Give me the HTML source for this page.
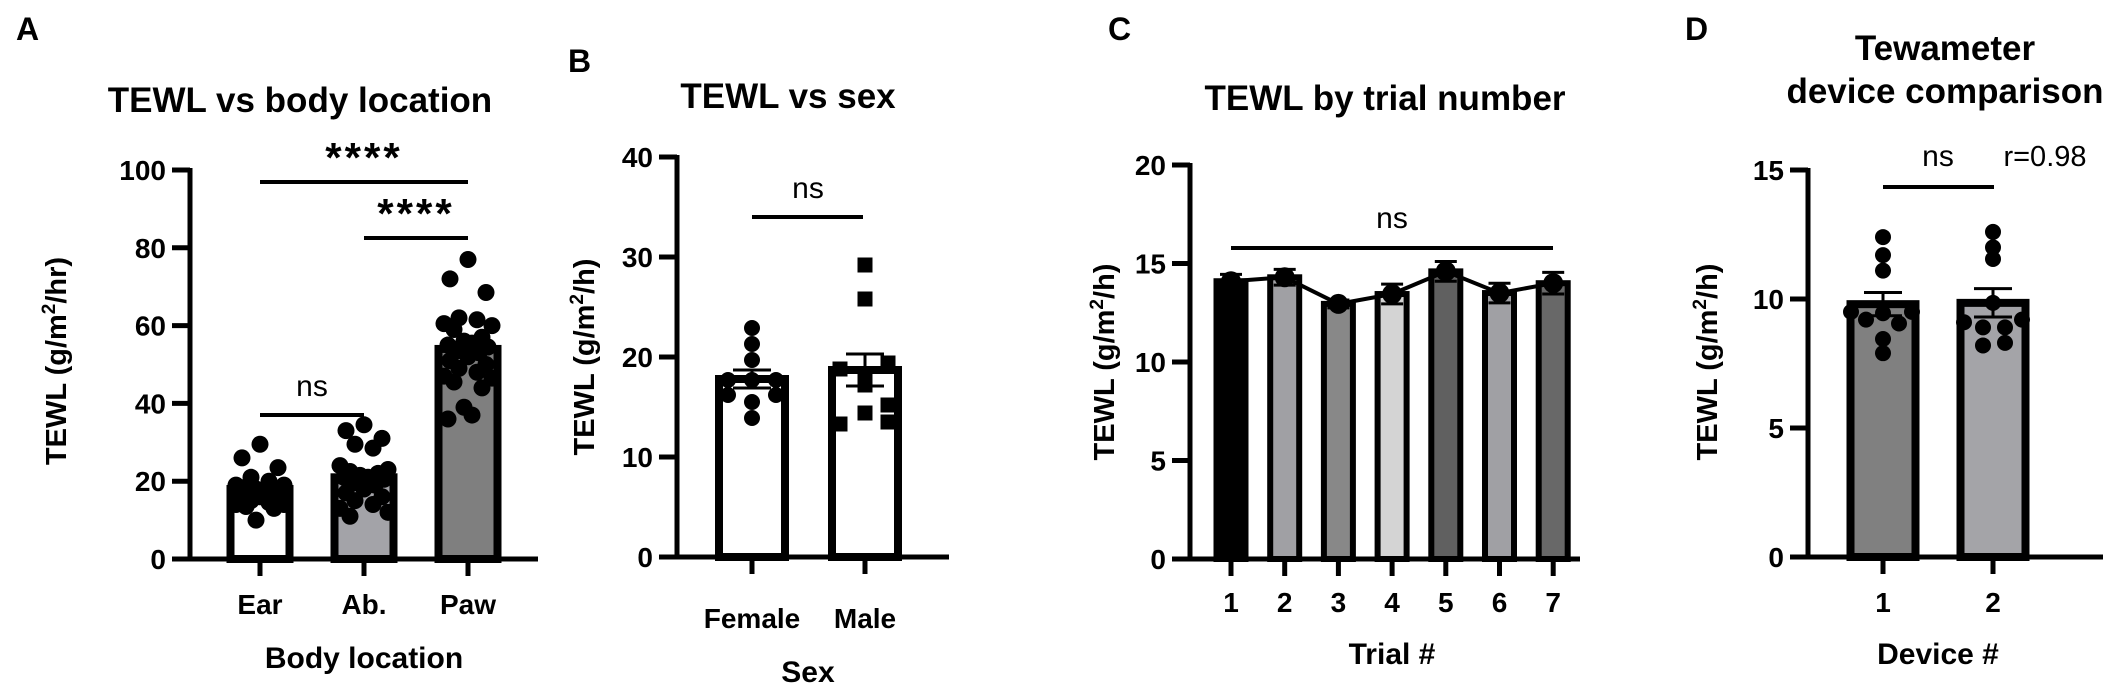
<!DOCTYPE html>
<html><head><meta charset="utf-8"><style>
html,body{margin:0;padding:0;background:#fff;}
svg{display:block;font-family:"Liberation Sans",Arial,sans-serif;}
</style></head><body>
<svg id="fig" width="2125" height="690" viewBox="0 0 2125 690" xmlns="http://www.w3.org/2000/svg"></svg>
<script>
// ---- Panel A data
const aCats = ["Ear","Ab.","Paw"];
const aMeans = [18, 21, 54];
const aSem = [0.8, 1.2, 1.7];
const aEar = [29.5,26,23.5,21,20,19,19,18.5,18,18,17.5,17.5,17,17,16.5,16,16,15.5,15,15,14.5,14,14,13.5,13,10];
const aAb = [34.5,33,31,29.5,28.5,24,23,22.5,22,21.5,21,21,20.5,20,19.5,19,18,17,16,15,14,13,12,11];
const aPaw = [77,72,68.5,62,61.5,60.5,60,59,57,56,55.5,55,54.5,54,53.5,53,52,51,50,49,48,47,46.5,45.5,44,39,37,36];
const aTicks = [0,20,40,60,80,100];
// ---- Panel B data
const bCats = ["Female","Male"];
const bMeans = [17.8, 18.7];
const bSem = [0.9, 1.6];
const bFemale = [22.9,21.3,19.7,17.7,17.7,17.7,16.2,16.2,15.5,13.9];
const bMale = [29.2,25.8,19.4,18.8,18.0,17.2,15.2,14.4,13.5,13.3];
const bTicks = [0,10,20,30,40];
// ---- Panel C data
const cCats = ["1","2","3","4","5","6","7"];
const cMeans = [14.1,14.3,12.95,13.45,14.6,13.5,14.0];
const cSem = [0.35,0.4,0.2,0.5,0.5,0.5,0.55];
const cTicks = [0,5,10,15,20];
// ---- Panel D data
const dCats = ["1","2"];
const dMeans = [9.8, 9.85];
const dSem = [0.45, 0.55];
const dDev1 = [12.4,11.7,11.1,9.45,9.5,9.5,9.2,9.05,8.45,7.9];
const dDev2 = [12.6,12.0,11.55,9.85,9.1,9.2,8.9,8.9,8.2,8.3];
const dTicks = [0,5,10,15];

const NS="http://www.w3.org/2000/svg";
const svg=document.getElementById('fig');
function mk(tag,attrs,parent,text){const e=document.createElementNS(NS,tag);for(const k in attrs)e.setAttribute(k,attrs[k]);if(text!==undefined)e.textContent=text;(parent||svg).appendChild(e);return e;}
function line(g,x1,y1,x2,y2,w,name){const l=mk('line',{x1,y1,x2,y2,stroke:'#000','stroke-width':w},g);

return l;}
function txt(g,x,y,s,size,weight,anchor,name,extra){const t=mk('text',Object.assign({x,y,'font-size':size,'font-weight':weight,'text-anchor':anchor,fill:'#000'},extra||{}),g,s);

return t;}
function group(name){const g=mk('g',{});

return g;}

function axes(g,P){
  line(g,P.ax,P.y(P.ticks[P.ticks.length-1])-2,P.ax,P.y(0)+2.5,5,'y-axis-line');
  P.ticks.forEach(v=>{line(g,P.ax-18,P.y(v),P.ax,P.y(v),5,'y-tick');
    txt(g,P.ax-24,P.y(v)+10,String(v),28,'bold','end','y-tick-label');});
  line(g,P.ax-2.5,P.y(0),P.xEnd,P.y(0),5,'x-axis-line');
  P.cats.forEach((c,i)=>{const x=P.xc(i);line(g,x,P.y(0),x,P.y(0)+17,5,'x-tick');
    txt(g,x,P.labY,c,28,'bold','middle','x-tick-label');});
}
function bar(g,P,i,mean,fill,bw,bwStroke){
  const x=P.xc(i),y0=P.y(0),y1=P.y(mean);
  const r=mk('rect',{x:x-bw/2+bwStroke/2,y:y1,width:bw-bwStroke,height:y0-y1,fill,stroke:'#000','stroke-width':bwStroke},g);
  
  
}
function errbar(g,P,i,mean,sem,cap,w){
  const x=P.xc(i);
  line(g,x,P.y(mean+sem),x,P.y(mean-sem),w,'error-bar');
  line(g,x-cap,P.y(mean+sem),x+cap,P.y(mean+sem),w,'error-cap');
  line(g,x-cap,P.y(mean-sem),x+cap,P.y(mean-sem),w,'error-cap');
}
function dots(g,P,i,vals,offs,r,shape){
  vals.forEach((v,k)=>{const x=P.xc(i)+offs[k%offs.length],y=P.y(v);let e;
    if(shape==='square'){e=mk('rect',{x:x-r,y:y-r,width:2*r,height:2*r,fill:'#000'},g);}
    else{e=mk('circle',{cx:x,cy:y,r,fill:'#000'},g);}
    
    });
}
function ytitle(g,x,y,name,unit){
  const t=mk('text',{x:0,y:0,'font-size':29,'font-weight':'bold','text-anchor':'middle',transform:`translate(${x},${y}) rotate(-90)`},g);
  
  
  t.appendChild(document.createTextNode('TEWL (g/m'));
  mk('tspan',{'font-size':19,dy:-11},t,'2');
  mk('tspan',{dy:11},t,'/'+unit+')');
}
function panelLabel(x,y,s){txt(svg,x,y,s,32,'bold','start','panel-label-'+s.toLowerCase());}

// ===== Panel A
(function(){
 const g=group('panel-a');
 const P={ax:190,y:v=>559-v*3.89,ticks:aTicks,cats:aCats,xc:i=>260+i*104,xEnd:538,labY:614};
 axes(g,P);
 const fills=['#ffffff','#a3a3a8','#7f7f7f'];
 aMeans.forEach((m,i)=>bar(g,P,i,m,fills[i],67,8));
 const offs=[0,-18,18,-9,9,-24,24,-14,14,-4,4,-20,20,0,-11,11];
 dots(g,P,0,aEar,offs,8.5);dots(g,P,1,aAb,offs,8.5);dots(g,P,2,aPaw,offs,8.5);
 aMeans.forEach((m,i)=>errbar(g,P,i,m,aSem[i],14,3));
 line(g,260,182,468,182,4,'sig-line-ear-paw');txt(g,364,172,'****',42,'bold','middle','sig-stars-ear-paw',{'letter-spacing':3});
 line(g,364,238,468,238,4,'sig-line-ab-paw');txt(g,416,228,'****',42,'bold','middle','sig-stars-ab-paw',{'letter-spacing':3});
 line(g,260,415,364,415,4,'sig-line-ear-ab');txt(g,312,396,'ns',30,'normal','middle','sig-ns-ear-ab');
 txt(g,300,112,'TEWL vs body location',35,'bold','middle','chart-title-a');
 txt(g,364,668,'Body location',30,'bold','middle','x-axis-title-a');
 ytitle(g,66,361,'y-axis-title-a','hr');
})();
panelLabel(16,40,'A');

// ===== Panel B
(function(){
 const g=group('panel-b');
 const P={ax:677,y:v=>557-v*10,ticks:bTicks,cats:bCats,xc:i=>752+i*113,xEnd:949,labY:628};
 axes(g,P);
 bMeans.forEach((m,i)=>bar(g,P,i,m,'#ffffff',74,8));
 const fo=[0,0,0,-24,0,24,-24,24,0,0];
 const mo=[0,0,23,-25,0,0,23,0,23,-25];
 dots(g,P,0,bFemale,fo,8);dots(g,P,1,bMale,mo,7.5,'square');
 bMeans.forEach((m,i)=>errbar(g,P,i,m,bSem[i],19,3));
 line(g,752,217,863,217,4,'sig-line-sex');txt(g,808,198,'ns',30,'normal','middle','sig-ns-sex');
 txt(g,788,108,'TEWL vs sex',35,'bold','middle','chart-title-b');
 txt(g,808,682,'Sex',30,'bold','middle','x-axis-title-b');
 ytitle(g,594,357,'y-axis-title-b','h');
})();
panelLabel(568,72,'B');

// ===== Panel C
(function(){
 const g=group('panel-c');
 const P={ax:1190,y:v=>559-v*19.7,ticks:cTicks,cats:cCats,xc:i=>1231+i*53.7,xEnd:1580,labY:612};
 axes(g,P);
 const fills=['#000000','#a0a0a4','#888888','#d4d4d4','#606060','#a0a0a4','#686868'];
 cMeans.forEach((m,i)=>bar(g,P,i,m,fills[i],35,6));
 cMeans.forEach((m,i)=>errbar(g,P,i,m,cSem[i],11,3));
 const pts=cMeans.map((m,i)=>P.xc(i)+','+P.y(m)).join(' ');
 const pl=mk('polyline',{points:pts,fill:'none',stroke:'#000','stroke-width':4},g);
 
 
 cMeans.forEach((m,i)=>{const c=mk('circle',{cx:P.xc(i),cy:P.y(m),r:10,fill:'#000'},g);
  
  });
 line(g,1231,248,1553,248,4,'sig-line-trials');txt(g,1392,228,'ns',30,'normal','middle','sig-ns-trials');
 txt(g,1385,110,'TEWL by trial number',35,'bold','middle','chart-title-c');
 txt(g,1392,664,'Trial #',30,'bold','middle','x-axis-title-c');
 ytitle(g,1114,362,'y-axis-title-c','h');
})();
panelLabel(1108,40,'C');

// ===== Panel D
(function(){
 const g=group('panel-d');
 const P={ax:1808,y:v=>557-v*25.8,ticks:dTicks,cats:dCats,xc:i=>1883+i*110,xEnd:2103,labY:612};
 axes(g,P);
 const fills=['#808080','#a4a4a8'];
 dMeans.forEach((m,i)=>bar(g,P,i,m,fills[i],73,8));
 const o1=[0,0,0,0,-32,29,-17,16,0,0];
 const o2=[0,0,0,0,-29,29,-10,12,-10,12];
 dots(g,P,0,dDev1,o1,8);dots(g,P,1,dDev2,o2,8);
 dMeans.forEach((m,i)=>errbar(g,P,i,m,dSem[i],19,3));
 line(g,1883,187,1994,187,4,'sig-line-device');txt(g,1938,166,'ns',30,'normal','middle','sig-ns-device');
 txt(g,2045,166,'r=0.98',29,'normal','middle','correlation-label');
 txt(g,1945,60,'Tewameter',35,'bold','middle','chart-title-d-line1');
 txt(g,1945,103,'device comparison',35,'bold','middle','chart-title-d-line2');
 txt(g,1938,664,'Device #',30,'bold','middle','x-axis-title-d');
 ytitle(g,1717,362,'y-axis-title-d','h');
})();
panelLabel(1685,40,'D');
</script>
</body></html>
